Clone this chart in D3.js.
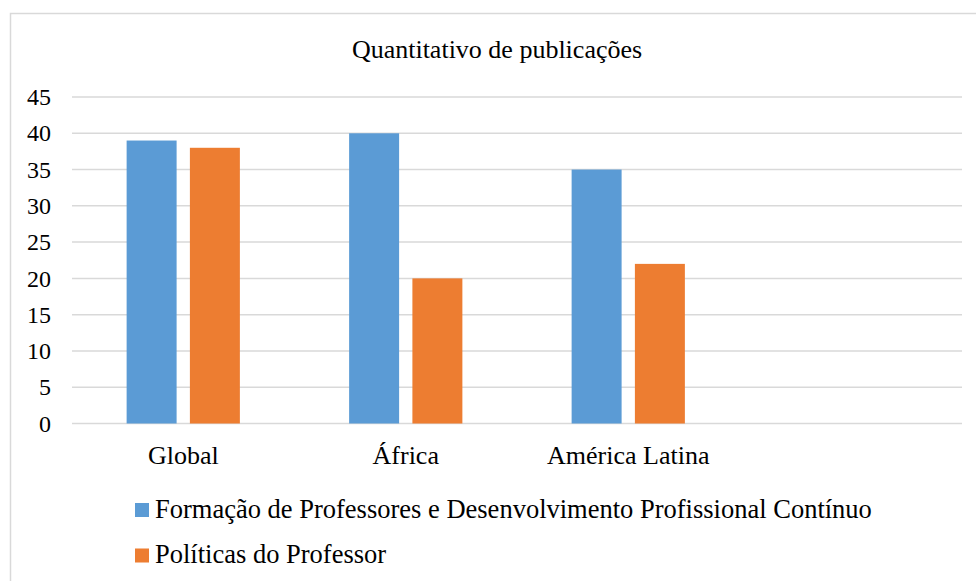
<!DOCTYPE html>
<html>
<head>
<meta charset="utf-8">
<script src="https://cdn.jsdelivr.net/npm/d3@7"></script>
<style>
  html, body { margin: 0; padding: 0; background: #fff; }
  svg { display: block; }
  svg text { font-family: "Liberation Serif", "Times New Roman", serif; fill: #000; }
</style>
</head>
<body>
<svg id="chart" width="976" height="581"></svg>
<script>
const title = "Quantitativo de publicações";
const categories = ["Global", "África", "América Latina", ""];
const seriesNames = ["Formação de Professores e Desenvolvimento Profissional Contínuo", "Políticas do Professor"];
const seriesColors = ["#5b9bd5", "#ed7d31"];
const formacaoValues = [39, 40, 35, null];
const politicasValues = [38, 20, 22, null];
const yTicks = [0, 5, 10, 15, 20, 25, 30, 35, 40, 45];

const svg = d3.select("#chart");
const FONT = '"Liberation Serif", "Times New Roman", serif';

// outer border
svg.append("rect")
  .attr("x", 10.5).attr("y", 13.5)
  .attr("width", 980).attr("height", 600)
  .attr("fill", "#fff").attr("stroke", "#d9d9d9").attr("stroke-width", 1.5);

const plot = { left: 72, right: 962, top: 97, bottom: 423.5 };

const x0 = d3.scaleBand().domain(categories.map((d, i) => i)).range([plot.left, plot.right]).paddingInner(0).paddingOuter(0);
const groupW = x0.bandwidth() * 0.509;
const x1 = d3.scaleBand().domain([0, 1]).range([0, groupW]).paddingInner(0.21).paddingOuter(0);
const y = d3.scaleLinear().domain([0, 45]).range([plot.bottom, plot.top]);

// gridlines
svg.append("g").selectAll("line").data(yTicks).join("line")
  .attr("x1", plot.left).attr("x2", plot.right)
  .attr("y1", d => y(d)).attr("y2", d => y(d))
  .attr("stroke", "#d9d9d9").attr("stroke-width", 1.5);

// y axis labels
const yAxis = d3.axisLeft(y).tickValues(yTicks).tickSize(0).tickPadding(21);
const yg = svg.append("g").attr("transform", `translate(${plot.left},0)`).call(yAxis)
  .attr("font-family", null).attr("font-size", null);
yg.select(".domain").remove();
yg.selectAll("text").attr("font-size", 24).style("font-family", FONT).attr("fill", "#000");

// bars
const data = categories.map((c, i) => ({ i, vals: [formacaoValues[i], politicasValues[i]] }));
const groups = svg.append("g").selectAll("g").data(data).join("g")
  .attr("transform", d => `translate(${x0(d.i) + (x0.bandwidth() - groupW) / 2},0)`);
groups.selectAll("rect").data(d => d.vals.map((v, s) => ({ v, s })).filter(e => e.v != null)).join("rect")
  .attr("x", e => x1(e.s))
  .attr("width", x1.bandwidth())
  .attr("y", e => y(e.v))
  .attr("height", e => y(0) - y(e.v))
  .attr("fill", e => seriesColors[e.s]);

// x axis labels
const xAxis = d3.axisBottom(x0).tickFormat(i => categories[i]).tickSize(0).tickPadding(22);
const xg = svg.append("g").attr("transform", `translate(0,${plot.bottom})`).call(xAxis)
  .attr("font-family", null).attr("font-size", null);
xg.select(".domain").remove();
xg.selectAll("text").attr("font-size", 26).style("font-family", FONT).attr("fill", "#000");

// title
svg.append("text").attr("x", 497).attr("y", 58).attr("text-anchor", "middle")
  .style("font-family", FONT).attr("font-size", 26).text(title);

// legend
const leg = svg.append("g").selectAll("g").data(seriesNames).join("g")
  .attr("transform", (d, i) => `translate(135,${503 + i * 45.5})`);
leg.append("rect").attr("width", 14).attr("height", 14).attr("fill", (d, i) => seriesColors[i]);
leg.append("text").attr("x", 20).attr("y", 14.5).style("font-family", FONT).attr("font-size", 26.5).text(d => d);
</script>
</body>
</html>
